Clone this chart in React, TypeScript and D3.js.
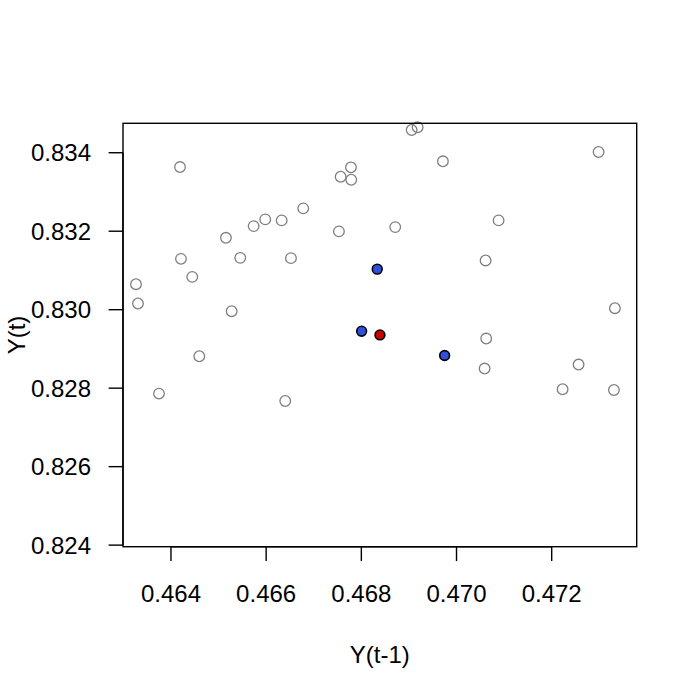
import React from "react";
import * as d3 from "d3";

const hollowX = [0.46419, 0.467782, 0.467565, 0.467788, 0.466779, 0.465981, 0.466326, 0.465737, 0.465155, 0.467529, 0.46421, 0.465456, 0.466521, 0.464447, 0.463265, 0.463307, 0.469057, 0.469183, 0.472985, 0.469714, 0.470884, 0.468712, 0.470611, 0.473328, 0.465275, 0.464595, 0.463748, 0.466401, 0.470624, 0.47059, 0.472565, 0.472229, 0.473307];
const hollowY = [0.833635, 0.833628, 0.833388, 0.833311, 0.832582, 0.832301, 0.832276, 0.83213, 0.831832, 0.831995, 0.831296, 0.831321, 0.831314, 0.830837, 0.83065, 0.830158, 0.834579, 0.834648, 0.834018, 0.833781, 0.832276, 0.832105, 0.831255, 0.830038, 0.829962, 0.828814, 0.827862, 0.827673, 0.829265, 0.8285, 0.828602, 0.827972, 0.827954];
const blueX = [0.468334, 0.468006, 0.46975];
const blueY = [0.831033, 0.829452, 0.828832];
const redX = [0.468391];
const redY = [0.829357];

const xTicks = [0.464, 0.466, 0.468, 0.47, 0.472];
const yTicks = [0.824, 0.826, 0.828, 0.83, 0.832, 0.834];
const xLabel = "Y(t-1)";
const yLabel = "Y(t)";

const W = 700, H = 700;
const L = 123, R = 636.7, T = 123.3, B = 546.7;

export default function App() {
  const x = d3.scaleLinear().domain([0.462992, 0.473786]).range([L, R]);
  const y = d3.scaleLinear().domain([0.82396, 0.83475]).range([B, T]);
  const font = "'Liberation Sans', Arial, sans-serif";
  const tick = 14.4;
  return (
    <svg width={W} height={H} style={{ position: "absolute", left: 0, top: 0, background: "#fff" }} fontFamily={font}>
      <rect x={0} y={0} width={W} height={H} fill="#fff" />
      {hollowX.map((v, i) => (
        <circle key={"h" + i} cx={x(v)} cy={y(hollowY[i])} r={5.3} fill="none" stroke="#7f7f7f" strokeWidth={1.3} />
      ))}
      {blueX.map((v, i) => (
        <circle key={"b" + i} cx={x(v)} cy={y(blueY[i])} r={4.9} fill="#3050DC" stroke="#000" strokeWidth={1.6} />
      ))}
      {redX.map((v, i) => (
        <circle key={"r" + i} cx={x(v)} cy={y(redY[i])} r={4.9} fill="#C80000" stroke="#000" strokeWidth={1.6} />
      ))}
      <rect x={L} y={T} width={R - L} height={B - T} fill="none" stroke="#000" strokeWidth={1.4} />
      <line x1={x(xTicks[0])} x2={x(xTicks[xTicks.length - 1])} y1={B} y2={B} stroke="#000" strokeWidth={1.4} />
      {xTicks.map((t) => (
        <g key={"xt" + t}>
          <line x1={x(t)} x2={x(t)} y1={B} y2={B + tick} stroke="#000" strokeWidth={1.4} />
          <text x={x(t)} y={601.5} fontSize={24} textAnchor="middle" fill="#000">{d3.format(".3f")(t)}</text>
        </g>
      ))}
      <line x1={L} x2={L} y1={y(yTicks[0])} y2={y(yTicks[yTicks.length - 1])} stroke="#000" strokeWidth={1.4} />
      {yTicks.map((t) => (
        <g key={"yt" + t}>
          <line x1={L - tick} x2={L} y1={y(t)} y2={y(t)} stroke="#000" strokeWidth={1.4} />
          <text x={91} y={y(t) + 8.6} fontSize={24} textAnchor="end" fill="#000">{d3.format(".3f")(t)}</text>
        </g>
      ))}
      <text x={(L + R) / 2} y={663} fontSize={24} textAnchor="middle" fill="#000">{xLabel}</text>
      <text transform={`translate(25, ${(T + B) / 2}) rotate(-90)`} fontSize={24} textAnchor="middle" fill="#000">{yLabel}</text>
    </svg>
  );
}
